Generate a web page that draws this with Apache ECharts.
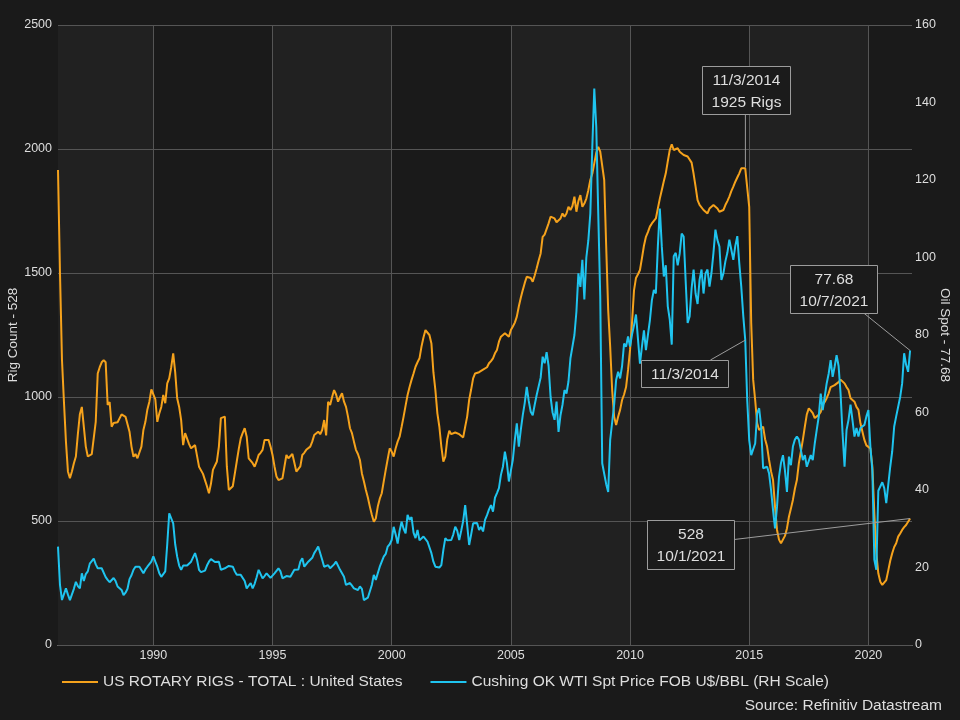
<!DOCTYPE html>
<html>
<head>
<meta charset="utf-8">
<script src="https://cdn.jsdelivr.net/npm/echarts@6/dist/echarts.min.js"></script>
<style>
html, body { margin: 0; padding: 0; background: #1a1a1a; }
#chart { width: 960px; height: 720px; }
</style>
</head>
<body>
<div id="chart"></div>
<script>
// monthly values, Jan 1986 .. Oct 2021
var startYear = 1986;

// US rotary rigs (left scale)
var rigCount = [
  1915,1500,1150,980,820,700,672,700,733,760,850,930,      // 1986
  960,960,800,760,752,770,770,900,1095,1120,1140,1149,     // 1987
  1140,968,980,880,895,900,898,900,930,925,920,915,        // 1988
  860,800,759,770,753,760,800,867,900,950,981,1031,        // 1989
  1030,990,900,934,960,1008,975,1055,1075,1120,1176,1100,  // 1990
  995,960,907,806,854,854,810,793,795,806,800,719,         // 1991
  719,690,665,640,612,650,706,706,740,800,915,921,         // 1992
  921,720,625,618,640,690,740,790,833,855,874,840,         // 1993
  753,745,733,719,740,766,775,787,827,827,827,800,         // 1994
  766,720,679,665,668,672,719,766,753,753,770,735,         // 1995
  699,699,720,766,775,787,795,800,820,847,855,860,         // 1996
  850,867,907,845,981,968,1000,1028,1010,981,1000,1015,    // 1997
  981,960,921,874,854,820,787,770,746,692,660,625,         // 1998
  595,558,525,497,510,558,590,612,660,706,750,793,         // 1999
  780,760,793,820,840,880,921,965,1008,1040,1069,1095,     // 2000
  1122,1140,1156,1203,1240,1270,1270,1250,1216,1100,1028,934, // 2001
  880,800,739,760,830,864,850,850,857,857,850,845,         // 2002
  837,880,921,988,1030,1075,1095,1095,1100,1102,1110,1116, // 2003
  1120,1136,1145,1156,1176,1190,1223,1243,1250,1257,1250,1243, // 2004
  1270,1284,1300,1324,1365,1400,1431,1460,1485,1492,1480,1465, // 2005
  1490,1519,1550,1579,1646,1655,1660,1700,1727,1734,1720,1705, // 2006
  1700,1720,1740,1727,1740,1767,1754,1770,1808,1747,1790,1814, // 2007
  1767,1780,1800,1834,1875,1900,1942,1985,2009,1989,1989,1875, // 2008
  1606,1350,1203,1028,920,887,920,948,988,1010,1040,1109,  // 2009
  1190,1300,1430,1480,1495,1512,1560,1610,1646,1665,1687,1700, // 2010
  1707,1720,1760,1800,1835,1870,1902,1950,1996,2019,1996,2003, // 2011
  2003,1989,1983,1976,1969,1970,1969,1945,1900,1848,1794,1775, // 2012
  1767,1754,1754,1740,1760,1768,1774,1774,1760,1747,1750,1754, // 2013
  1774,1790,1808,1830,1848,1868,1885,1902,1922,1925,1922,1915, // 2014
  1767,1300,1069,988,894,867,872,880,830,800,746,700,      // 2015
  665,558,464,425,410,417,440,470,517,550,585,630,         // 2016
  665,733,780,827,880,930,954,945,935,915,907,928,         // 2017
  940,968,980,995,1015,1040,1048,1048,1050,1060,1070,1075, // 2018
  1055,1040,1028,995,988,981,960,948,894,860,827,805,      // 2019
  800,793,719,531,370,289,255,242,250,262,300,340,         // 2020
  370,395,410,437,450,464,475,484,497,510                  // 2021
];

// WTI spot, U$/BBL (right scale)
var oilPrice = [
  25.4,15.5,11.6,11.3,14.6,13,11.6,11.6,14.5,16.3,15.2,14.6,      // 1986
  18.5,16.5,18.3,19,21,21.5,22.3,20.8,19.8,19.4,19.8,19.4,        // 1987
  17.5,16.8,16.2,16,17.3,16.5,15.1,15.4,14.2,12.9,13.5,14.5,      // 1988
  17,18,19.4,20.2,20,20.2,20.6,18.5,19.5,20.2,20,21.5,            // 1989
  22.9,21.5,20.2,18.5,17.6,17.2,19,26,34,34.2,31.4,26,            // 1990
  22.8,20.5,19.4,20.5,21,20.5,21,21.5,22,23.7,22,19.4,            // 1991
  18.8,18.5,19.2,20.5,21.5,22.2,21.8,21.4,21.9,21.5,19.4,19.5,    // 1992
  19.8,20.2,20.4,20.2,20.2,19,18.1,18,18.1,18.1,16.5,14.6,        // 1993
  15,16,14.6,15.8,17.5,19.4,19.2,17.2,17.8,18.5,18,17.3,          // 1994
  17.6,18.5,18.8,19.8,19,17.2,17.4,17.8,17.6,17.6,18,19.4,        // 1995
  19.4,19.5,21.5,22.4,20.2,20.5,21.5,21.8,22.5,23.7,24.5,25.4,    // 1996
  24.9,22,20.2,19.8,20.6,19.8,20.2,20.8,21.5,21,19.4,18.5,        // 1997
  17.6,15.5,15.2,16,15.3,14.6,14.2,14.2,15.1,14.5,11.6,11.8,      // 1998
  12.2,12.5,15.5,18.1,16.8,18.5,20.2,21.5,22.8,23.5,25.4,26,      // 1999
  27.1,30.5,28.5,26.2,29.5,31.8,30,28.8,33.6,32.3,33,29,          // 2000
  27.6,29.7,27,26.7,28,27.5,26.7,26.5,23.7,21.5,20.2,20,          // 2001
  20,20.6,24.5,27.6,27,26.7,27.1,28.5,30.5,29.5,27.1,29.5,        // 2002
  32,36.1,31,25.8,28.5,31.4,31.8,31.5,29.7,30.5,29.3,32.3,        // 2003
  33.5,35,36.1,34.4,38,39.2,40.5,43.9,46,49.9,47,42.2,            // 2004
  45,47.8,53,57.2,51.2,55.5,59.3,62.5,66.6,63,60.2,59.3,          // 2005
  62,64.5,64.5,69,74.4,72.7,75.6,72,64,60,58.1,62.8,              // 2006
  55,59.3,62,65.8,64.9,68,74,77,80,86,95.9,92.4,                  // 2007
  99.4,89.2,100,104.4,111.3,128.4,143.6,133.6,111.3,89.9,46.9,44.2, // 2008
  41.5,39.5,52.9,52.9,62,68.4,70.5,68.8,72,77.8,77,79.6,          // 2009
  77,80.1,82.5,85.3,85.7,72.6,77,81.2,76.1,80,83.8,89,            // 2010
  91.6,90.7,102.8,112.6,102.8,95.1,98,87.4,84,77.5,100.3,101.2,   // 2011
  98,101,106.2,105.4,94,83.1,84.8,92,96.9,90.7,88,94.2,           // 2012
  96.9,90.7,95.9,96.9,92.5,96,101.2,107.2,104.5,102.8,94.2,95.9,  // 2013
  99,101.2,104.6,102,99.4,103,105.5,98.5,92.5,85,78.7,63.2,       // 2014
  52.9,49,49,52,59.8,61.1,56.4,45.6,46,46,44.3,40,                // 2015
  34.8,30.1,35.7,43.4,47,49,45,39.5,48.6,46.4,51.2,53,            // 2016
  53.8,53,52.5,47.7,49,46,47.5,49,47.7,52,55.5,58.9,              // 2017
  64.9,60.6,64,67.5,70,73.5,69.2,71.8,74.8,72,64.9,54.6,          // 2018
  46,55.5,58.1,62,58,53.8,56,53.8,56,55.5,56.8,59,                // 2019
  60.6,51.2,45,22,19.4,39.8,40,42,40.5,36.6,36.6,46,              // 2020
  50,56.4,59,61.5,64,67.5,75.3,72.3,70.5,76                       // 2021
];

// callouts: [decimal year, value, which scale]
var noteRigPeak = [2014.84, 1925, 0];
var noteOilPeak = [2014.84, 78.7, 1];
var noteOilLast = [2021.75, 76, 1];
var noteRigLast = [2021.75, 510, 0];

var rigName = 'US ROTARY RIGS - TOTAL : United States';
var oilName = 'Cushing OK WTI Spt Price FOB U$/BBL (RH Scale)';

function monthly(values) {
  var out = [];
  for (var i = 0; i < values.length; i++) {
    out.push([startYear + i / 12, values[i]]);
  }
  return out;
}

var font = '"Liberation Sans", Arial, sans-serif';
var txt = '#dedede';
var orange = '#f5a21c';
var cyan = '#1fc4ef';
var plain = function (v) { return String(Math.round(v)); };

var option = {
  backgroundColor: '#1a1a1a',
  animation: false,
  textStyle: { fontFamily: font },
  grid: {
    left: 58, right: 48, top: 25, bottom: 75, containLabel: false, outerBoundsMode: 'none',
    show: true, backgroundColor: '#212121', borderWidth: 0
  },
  title: {
    text: 'Source: Refinitiv Datastream',
    right: 18, top: 698, padding: 0,
    textStyle: { color: txt, fontSize: 15.5, fontWeight: 'normal', fontFamily: font }
  },
  legend: {
    left: 62, top: 674, padding: 0,
    icon: 'rect', itemWidth: 36, itemHeight: 2, itemGap: 28,
    textStyle: { color: txt, fontSize: 15.5, fontFamily: font },
    data: [rigName, oilName]
  },
  xAxis: {
    type: 'value', min: 1986, max: 2021.83, splitNumber: 7, z: 0,
    axisLine: { lineStyle: { color: '#c8c8c8', width: 1 } },
    axisTick: { show: false },
    axisLabel: {
      color: txt, fontSize: 12.5, margin: 4, showMinLabel: false, showMaxLabel: false,
      formatter: plain
    },
    splitLine: { show: true, showMinLine: false, showMaxLine: false, lineStyle: { color: '#555', width: 1 } },
    splitArea: { show: true, areaStyle: { color: ['#212121', '#1a1a1a'] } }
  },
  yAxis: [{
    type: 'value', min: 0, max: 2500, interval: 500, z: 1,
    name: 'Rig Count - 528', nameLocation: 'middle', nameGap: 38, nameMoveOverlap: false,
    nameTextStyle: { color: txt, fontSize: 13.5, fontFamily: font },
    axisLine: { show: false }, axisTick: { show: false },
    axisLabel: { color: txt, fontSize: 12.5, margin: 6, formatter: plain },
    splitLine: { show: true, lineStyle: { color: '#555', width: 1 } }
  }, {
    type: 'value', min: 0, max: 160, interval: 20, z: 1,
    name: 'Oil Spot - 77.68', nameLocation: 'middle', nameRotate: -90, nameGap: 26, nameMoveOverlap: false,
    nameTextStyle: { color: txt, fontSize: 13.5, fontFamily: font },
    axisLine: { show: false }, axisTick: { show: false },
    axisLabel: { color: txt, fontSize: 12.5, margin: 3, formatter: plain },
    splitLine: { show: false }
  }],
  series: [{
    name: rigName, type: 'line', yAxisIndex: 0, showSymbol: false, z: 3,
    data: monthly(rigCount), color: orange,
    lineStyle: { color: orange, width: 2 }
  }, {
    name: oilName, type: 'line', yAxisIndex: 1, showSymbol: false, z: 4,
    data: monthly(oilPrice), color: cyan,
    lineStyle: { color: cyan, width: 2 }
  }]
};

var chart = echarts.init(document.getElementById('chart'));
chart.setOption(option);

// callout boxes placed from the data points through the chart's own scales
function at(note) {
  return chart.convertToPixel({ seriesIndex: note[2] }, [note[0], note[1]]);
}
function callout(p, bx, by, w, h, lines, lx, ly) {
  var x = Math.round(p[0] + bx) + 0.5, y = Math.round(p[1] + by) + 0.5;
  return [{
    type: 'line', z: 99,
    shape: { x1: p[0] + lx, y1: p[1] + ly, x2: p[0], y2: p[1] },
    style: { stroke: '#9c9c9c', lineWidth: 1 }
  }, {
    type: 'rect', z: 100,
    shape: { x: x, y: y, width: w, height: h },
    style: { fill: '#1b1b1b', stroke: '#9c9c9c', lineWidth: 1 }
  }, {
    type: 'text', z: 101, x: x + w / 2, y: y + h / 2 + 1,
    style: {
      text: lines.join('\n'), align: 'center', verticalAlign: 'middle',
      fill: txt, font: '15.5px ' + font, lineHeight: 22
    }
  }];
}

var a = at(noteRigPeak), b = at(noteOilPeak), c = at(noteOilLast), d = at(noteRigLast);
var els = []
  .concat(callout(a, -43, -102, 88, 48, ['11/3/2014', '1925 Rigs'], 0, -54))
  .concat(callout(b, -104, 20, 87, 27, ['11/3/2014'], -35, 20))
  .concat(callout(c, -120, -86, 87, 48, ['77.68', '10/7/2021'], -47, -38))
  .concat(callout(d, -263, 1, 87, 49, ['528', '10/1/2021'], -176, 21));

chart.setOption({ graphic: els });
</script>
</body>
</html>
